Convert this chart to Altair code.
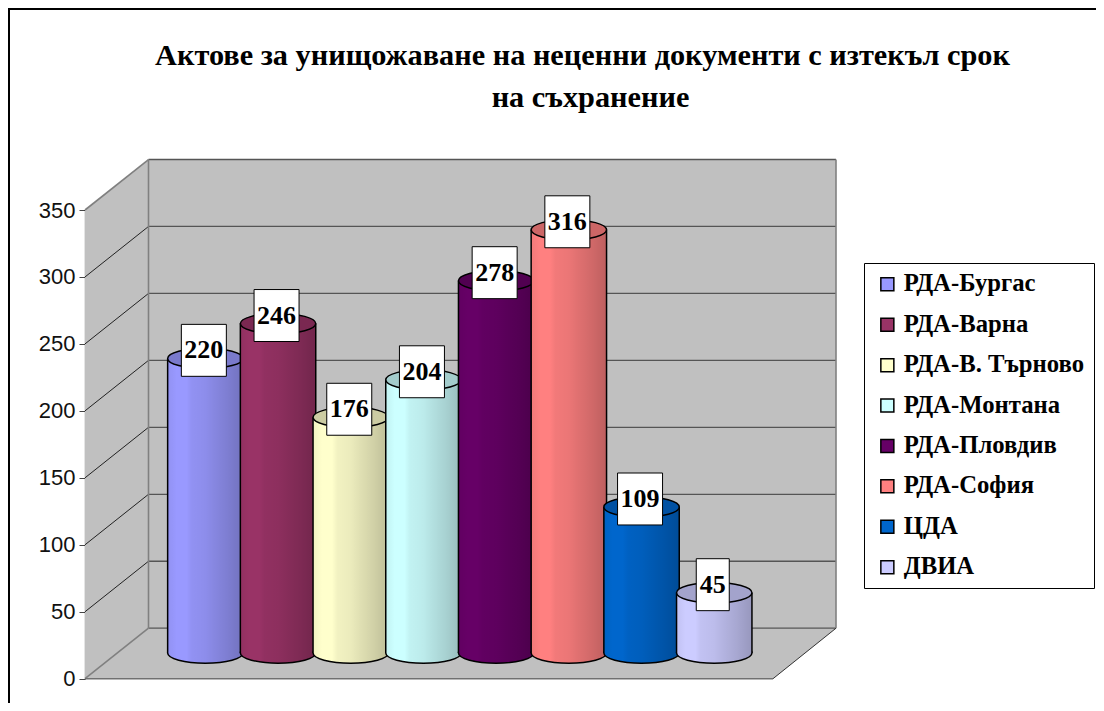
import altair as alt
import pandas as pd

title_line_1 = "Актове за унищожаване на неценни документи с изтекъл срок"
title_line_2 = "на съхранение"
categories = ["РДА-Бургас", "РДА-Варна", "РДА-В. Търново", "РДА-Монтана", "РДА-Пловдив", "РДА-София", "ЦДА", "ДВИА"]
values = [220, 246, 176, 204, 278, 316, 109, 45]
colors = ["#9999FF", "#993366", "#FFFFCC", "#CCFFFF", "#660066", "#FF8080", "#0066CC", "#CCCCFF"]
y_ticks = [0, 50, 100, 150, 200, 250, 300, 350]

W, H = 1088, 695
DEPTH = 37.7      # depth of the box, in value units
BASE = 19.2       # cylinder base lift, in value units
LABEL_LIFT = 6.0
LABEL_HALF = 19.4
R = 37.7
SERIF = "Liberation Serif"
SANS = "Liberation Sans"
X0, X1, X2, X3 = 77, 140.5, 765, 828

yscale = alt.Scale(domain=[0, 350], range=[670.7, 202])
pxscale = alt.Scale(domain=[0, W], range=[0, W])
band = alt.Scale(domain=categories, range=[161, 161 + 72.7 * 8], paddingInner=0, paddingOuter=0)
legend = alt.Legend(
    title=None, orient="none", legendX=856, legendY=255, padding=9, symbolType="square",
    symbolSize=169, symbolStrokeColor="black", symbolStrokeWidth=1.5, symbolOffset=2,
    labelFont=SERIF, labelFontWeight="bold", labelFontSize=24.7, labelColor="black", labelOffset=4,
    rowPadding=14.4, fillColor="white", strokeColor="black", labelLimit=300,
)
fill = alt.Fill("cat:N", scale=alt.Scale(domain=categories, range=colors), legend=legend, sort=None)
y_axis = alt.Axis(
    values=y_ticks, offset=-X0, tickSize=6, tickColor="#444", grid=False, labelFont=SANS, labelFontSize=22,
    labelColor="#111", labelPadding=4, domainColor="black", domainWidth=1.2, labelOverlap=False, title=None,
)


def shade():
    stops = [(0, 0.05), (0.12, 0.0), (0.25, 0.0), (0.32, 0.05), (0.5, 0.08), (0.62, 0.12), (0.8, 0.18), (1, 0.26)]
    return alt.LinearGradient(
        gradient="linear", x1=0, x2=1, y1=0, y2=0,
        stops=[alt.GradientStop(offset=o, color=f"rgba(0,0,0,{a})") for o, a in stops],
    )


df = pd.DataFrame({"cat": categories, "value": values})
df["top"] = df["value"] + BASE
df["base"] = BASE
df["box_hi"] = df["top"] + LABEL_LIFT + LABEL_HALF
df["box_lo"] = df["top"] + LABEL_LIFT - LABEL_HALF
df["mid"] = df["top"] + LABEL_LIFT
df["label"] = df["value"].astype(str)

ticks = pd.DataFrame({"v": y_ticks})
ticks["back"] = ticks["v"] + DEPTH
ticks["x0"], ticks["x1"], ticks["x3"] = X0, X1, X3

Xpx = lambda f: alt.X(f, type="quantitative", scale=pxscale, axis=None)
Ypx = lambda f: alt.Y(f, type="quantitative", scale=yscale, axis=y_axis)

side = pd.DataFrame({"x": [X0, X1], "lo": [0, DEPTH], "hi": [350, 350 + DEPTH]})
floor = pd.DataFrame({"y": [0, DEPTH], "l": [X0, X1], "r": [X2, X3]})
wall = pd.DataFrame({"l": [X1], "r": [X3], "lo": [DEPTH], "hi": [350 + DEPTH]})

layers = [
    alt.Chart(wall).mark_rect(color="#C0C0C0").encode(x=Xpx("l"), x2="r", y=Ypx("lo"), y2="hi"),
    alt.Chart(side).mark_area(color="#C0C0C0").encode(x=Xpx("x"), y=Ypx("lo"), y2="hi"),
    alt.Chart(floor).mark_area(color="#C0C0C0", orient="horizontal").encode(y=Ypx("y"), x=Xpx("l"), x2="r"),
    # back wall gridlines
    alt.Chart(ticks).mark_rule(color="#555", strokeWidth=1.3).encode(x=Xpx("x1"), x2="x3", y=Ypx("back")),
    # side wall gridlines
    alt.Chart(ticks[(ticks.v > 0) & (ticks.v < 350)]).mark_rule(color="#222", strokeWidth=1).encode(
        x=Xpx("x0"), x2="x1", y=Ypx("v"), y2="back"),
    # box edges
    alt.Chart(ticks[ticks.v.isin([0, 350])]).mark_rule(color="#808080", strokeWidth=1.6).encode(
        x=Xpx("x0"), x2="x1", y=Ypx("v"), y2="back"),
    alt.Chart(wall).mark_rule(color="#808080", strokeWidth=1.6).encode(x=Xpx("l"), y=Ypx("lo"), y2="hi"),
    alt.Chart(wall).mark_rule(color="#808080", strokeWidth=1.6).encode(x=Xpx("r"), y=Ypx("lo"), y2="hi"),
    alt.Chart(floor.iloc[[0]]).mark_rule(color="#707070", strokeWidth=1.6).encode(x=Xpx("l"), x2="r", y=Ypx("y")),
    alt.Chart(pd.DataFrame({"a": [X2], "b": [X3], "lo": [0], "hi": [DEPTH]})).mark_rule(color="#333", strokeWidth=1).encode(
        x=Xpx("a"), x2="b", y=Ypx("lo"), y2="hi"),
    # chart frame
    alt.Chart(wall).mark_rule(color="black", strokeWidth=2).encode(x=alt.value(1), y=alt.value(0), y2=alt.value(H)),
    alt.Chart(wall).mark_rule(color="black", strokeWidth=2).encode(x=alt.value(0), x2=alt.value(W), y=alt.value(1)),
    # second title line
    alt.Chart(pd.DataFrame({"t": [title_line_2]})).mark_text(
        font=SERIF, fontSize=30.3, fontWeight="bold", color="black", baseline="middle", align="center",
    ).encode(x=alt.value(582.5), y=alt.value(90), text="t:N"),
]

ELLIPSE = "M-1,0A1,0.27,0,1,1,1,0A1,0.27,0,1,1,-1,0Z"
SIZE = (2 * R) ** 2
Xc = alt.X("cat:N", scale=band, axis=None, sort=categories)

for cat in categories:
    d = df[df["cat"] == cat]
    base = alt.Chart(d)
    layers += [
        base.mark_point(shape=ELLIPSE, size=SIZE, filled=True, opacity=1, stroke="black", strokeWidth=1.5).encode(
            x=Xc, y=Ypx("base"), fill=fill),
        base.mark_point(shape=ELLIPSE, size=SIZE, filled=True, opacity=1, strokeWidth=0, fill=shade()).encode(
            x=Xc, y=Ypx("base")),
        base.mark_bar(size=2 * R, strokeWidth=0).encode(x=Xc, y=Ypx("top"), y2="base", fill=fill),
        base.mark_bar(size=2 * R, strokeWidth=0, fill=shade()).encode(x=Xc, y=Ypx("top"), y2="base"),
        base.mark_rule(color="black", strokeWidth=1.5, xOffset=-R).encode(x=Xc, y=Ypx("top"), y2="base"),
        base.mark_rule(color="black", strokeWidth=1.5, xOffset=R).encode(x=Xc, y=Ypx("top"), y2="base"),
        base.mark_point(shape=ELLIPSE, size=SIZE, filled=True, opacity=1, stroke="black", strokeWidth=1.5).encode(
            x=Xc, y=Ypx("top"), fill=fill),
        base.mark_point(shape=ELLIPSE, size=SIZE, filled=True, opacity=1, strokeWidth=0, fill="rgba(0,0,0,0.2)").encode(
            x=Xc, y=Ypx("top")),
    ]

for _, r in df.iterrows():
    d = df[df["cat"] == r["cat"]]
    w = 33 if len(r["label"]) == 2 else 45
    layers += [
        alt.Chart(d).mark_bar(size=w, fill="white", stroke="black", strokeWidth=1, xOffset=-1.5).encode(
            x=Xc, y=Ypx("box_hi"), y2="box_lo"),
        alt.Chart(d).mark_text(font=SERIF, fontWeight="bold", fontSize=26, color="black", xOffset=-1.5, baseline="middle").encode(
            x=Xc, y=Ypx("mid"), text="label:N"),
    ]

chart = (
    alt.layer(*layers)
    .resolve_scale(x="independent")
    .properties(
        width=W, height=H, padding=0, autosize=alt.AutoSizeParams(type="none"),
        title=alt.TitleParams(
            text=title_line_1, font=SERIF, fontSize=30.3, fontWeight="bold", color="black", anchor="middle",
            frame="group", dy=68, dx=30.5, align="center",
        ),
    )
    .configure_view(stroke=None)
    .configure_axis(grid=False)
)
chart.save("out.html", embed_options={"renderer": "svg", "actions": False})
